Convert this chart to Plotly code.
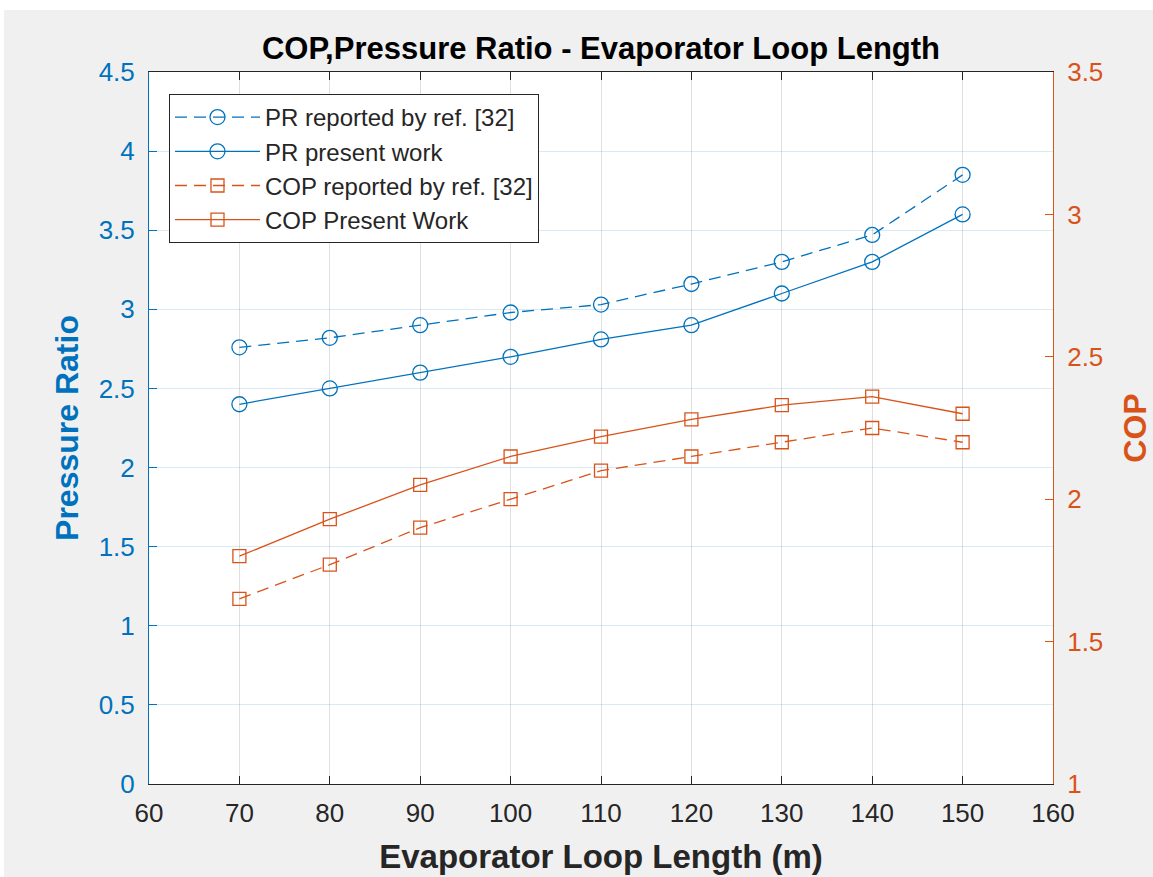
import plotly.graph_objects as go

length_m = [70, 80, 90, 100, 110, 120, 130, 140, 150]
pr_ref = [2.76, 2.82, 2.90, 2.98, 3.03, 3.16, 3.30, 3.47, 3.85]
pr_present = [2.40, 2.50, 2.60, 2.70, 2.81, 2.90, 3.10, 3.30, 3.60]
cop_ref = [1.65, 1.77, 1.90, 2.00, 2.10, 2.15, 2.20, 2.25, 2.20]
cop_present = [1.80, 1.93, 2.05, 2.15, 2.22, 2.28, 2.33, 2.36, 2.30]

BLUE = "#0072BD"
ORANGE = "#D95319"
FONT = "Liberation Sans, Arial, sans-serif"
DASH = "12px,7px"

L, R, T, B = 149, 100, 72, 93
PW, PH = 1153 - L - R, 877 - T - B

fig = go.Figure()
fig.add_trace(go.Scatter(x=length_m, y=pr_ref, name="PR reported by ref. [32]", mode="lines+markers",
                         line=dict(color=BLUE, width=1.3, dash=DASH),
                         marker=dict(symbol="circle-open", size=15, color=BLUE, line=dict(width=1.3))))
fig.add_trace(go.Scatter(x=length_m, y=pr_present, name="PR present work", mode="lines+markers",
                         line=dict(color=BLUE, width=1.3),
                         marker=dict(symbol="circle-open", size=15, color=BLUE, line=dict(width=1.3))))
fig.add_trace(go.Scatter(x=length_m, y=cop_ref, name="COP reported by ref. [32]", mode="lines+markers",
                         yaxis="y2", line=dict(color=ORANGE, width=1.3, dash=DASH),
                         marker=dict(symbol="square-open", size=13, color=ORANGE, line=dict(width=1.3))))
fig.add_trace(go.Scatter(x=length_m, y=cop_present, name="COP Present Work", mode="lines+markers",
                         yaxis="y2", line=dict(color=ORANGE, width=1.3),
                         marker=dict(symbol="square-open", size=13, color=ORANGE, line=dict(width=1.3))))

fig.update_layout(
    width=1153, height=877,
    margin=dict(l=L, r=R, t=T, b=B, autoexpand=False),
    paper_bgcolor="#f0f0f0", plot_bgcolor="white",
    font=dict(family=FONT, size=25, color="#262626"),
    title=dict(text="<b>COP,Pressure Ratio - Evaporator Loop Length</b>", x=0.5, xanchor="center",
               xref="paper", y=1 - 48 / 877, yanchor="middle", font=dict(size=31, color="black")),
    xaxis=dict(range=[60, 160], dtick=10, tick0=60, showgrid=True, gridcolor="rgba(38,38,38,0.15)",
               showline=True, linecolor="#262626", linewidth=1, mirror="ticks", ticks="inside",
               ticklen=8, tickcolor="#262626", zeroline=False, ticklabelstandoff=6, automargin=False,
               title=dict(text="<b>Evaporator Loop Length (m)</b>", font=dict(size=33, color="#262626"), standoff=17),
               tickfont=dict(size=26, color="#262626")),
    yaxis=dict(range=[0, 4.5], dtick=0.5, showgrid=True, gridcolor="rgba(0,114,189,0.15)",
               showline=True, linecolor=BLUE, linewidth=1, ticks="inside", ticklen=8, tickcolor=BLUE,
               zeroline=False, tickfont=dict(size=26, color=BLUE), ticklabelstandoff=8, automargin=False,
               title=dict(text="<b>Pressure Ratio</b>", font=dict(size=32, color=BLUE), standoff=10)),
    yaxis2=dict(range=[1, 3.5], dtick=0.5, overlaying="y", side="right", showgrid=False,
                showline=True, linecolor=ORANGE, linewidth=1, ticks="inside", ticklen=8, tickcolor=ORANGE,
                zeroline=False, tickfont=dict(size=26, color=ORANGE), ticklabelstandoff=8, automargin=False,
                title=dict(text="<b>COP</b>", font=dict(size=32, color=ORANGE), standoff=25)),
    legend=dict(x=(169 - L) / PW, y=(877 - B - 94) / PH, xanchor="left", yanchor="top", bgcolor="white",
                bordercolor="#262626", borderwidth=1, font=dict(size=24, color="#262626"),
                itemwidth=85, tracegroupgap=0),
    showlegend=True,
)

# white strip at top/left of figure (screenshot border)
fig.add_shape(type="rect", xref="paper", yref="paper", x0=-L / PW, x1=(1153 - L) / PW,
              y0=1 + (T - 10) / PH, y1=1 + T / PH, fillcolor="white", line=dict(width=0), layer="below")
fig.add_shape(type="rect", xref="paper", yref="paper", x0=-L / PW, x1=(4 - L) / PW,
              y0=-B / PH, y1=1 + T / PH, fillcolor="white", line=dict(width=0), layer="below")

fig.write_html("out.html")
